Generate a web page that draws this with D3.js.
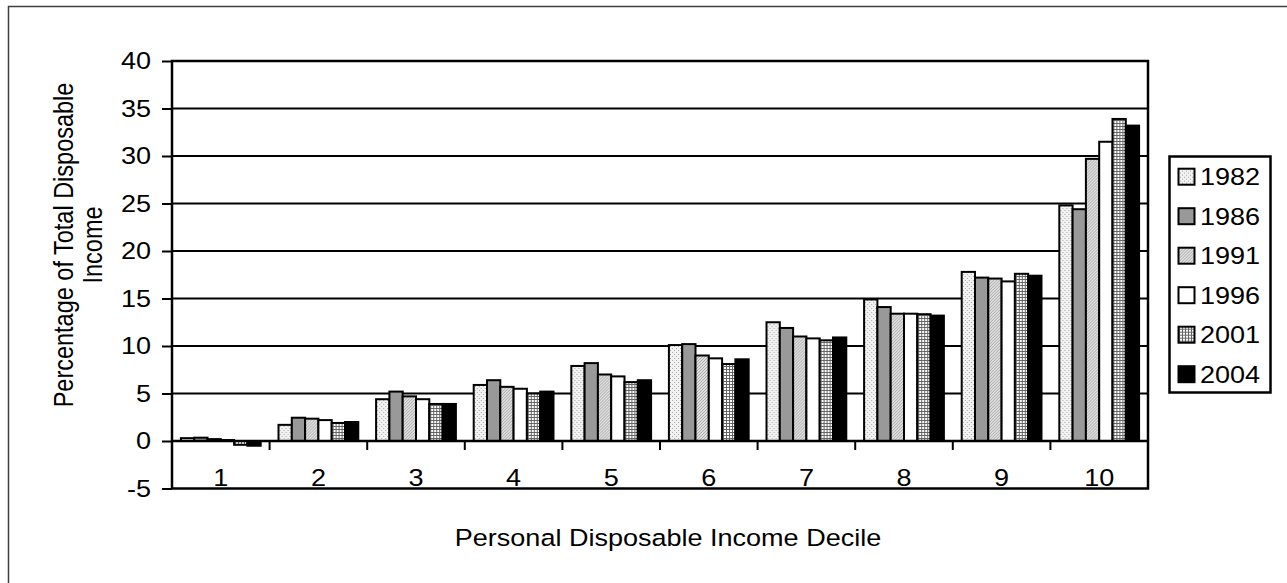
<!DOCTYPE html>
<html>
<head>
<meta charset="utf-8">
<script src="https://cdn.jsdelivr.net/npm/d3@7/dist/d3.min.js"></script>
<style>
  html, body { margin: 0; padding: 0; background: #fff; }
  svg { display: block; font-family: "Liberation Sans", Arial, sans-serif; }
</style>
</head>
<body>
<svg id="chart" width="1287" height="583"></svg>
<script>
// Share of total disposable income by decile, selected years
const deciles = ["1", "2", "3", "4", "5", "6", "7", "8", "9", "10"];
const years = ["1982", "1986", "1991", "1996", "2001", "2004"];
const share1982 = [0.3, 1.7, 4.4, 5.9, 7.9, 10.1, 12.5, 14.9, 17.8, 24.8];
const share1986 = [0.35, 2.45, 5.2, 6.4, 8.2, 10.2, 11.9, 14.1, 17.2, 24.4];
const share1991 = [0.2, 2.35, 4.7, 5.7, 7.0, 9.0, 11.0, 13.4, 17.1, 29.7];
const share1996 = [0.1, 2.2, 4.4, 5.5, 6.8, 8.7, 10.8, 13.4, 16.8, 31.5];
const share2001 = [-0.4, 1.9, 3.9, 5.0, 6.2, 8.1, 10.6, 13.35, 17.6, 33.9];
const share2004 = [-0.5, 2.0, 3.9, 5.2, 6.4, 8.6, 10.9, 13.2, 17.4, 33.2];
const yTicks = [-5, 0, 5, 10, 15, 20, 25, 30, 35, 40];

const seriesValues = [share1982, share1986, share1991, share1996, share2001, share2004];

const svg = d3.select("#chart");
const FS = 23.5;      // font size
const SX = 1.15;      // horizontal text stretch
const plot = { left: 172, right: 1148, top: 61, bottom: 488.5 };

// Fill patterns for each year
const defs = svg.append("defs");
const p82 = defs.append("pattern").attr("id", "f1982").attr("width", 4).attr("height", 4)
  .attr("patternUnits", "userSpaceOnUse");
p82.append("rect").attr("width", 4).attr("height", 4).attr("fill", "#f2f2f2");
p82.append("rect").attr("x", 0).attr("y", 0).attr("width", 1).attr("height", 1).attr("fill", "#a8a8a8");
p82.append("rect").attr("x", 2).attr("y", 2).attr("width", 1).attr("height", 1).attr("fill", "#a8a8a8");

const p91 = defs.append("pattern").attr("id", "f1991").attr("width", 3).attr("height", 3)
  .attr("patternUnits", "userSpaceOnUse");
p91.append("rect").attr("width", 3).attr("height", 3).attr("fill", "#dedede");
p91.append("path").attr("d", "M-1,1 L1,-1 M0,3 L3,0 M2,4 L4,2").attr("stroke", "#a6a6a6").attr("stroke-width", 0.9);

const p01 = defs.append("pattern").attr("id", "f2001").attr("width", 3).attr("height", 3)
  .attr("patternUnits", "userSpaceOnUse");
p01.append("rect").attr("width", 3).attr("height", 3).attr("fill", "#ffffff");
p01.append("rect").attr("x", 0).attr("y", 0).attr("width", 3).attr("height", 1).attr("fill", "#666");
p01.append("rect").attr("x", 0).attr("y", 0).attr("width", 1).attr("height", 3).attr("fill", "#666");

const fills = {
  "1982": "url(#f1982)",
  "1986": "#999999",
  "1991": "url(#f1991)",
  "1996": "#ffffff",
  "2001": "url(#f2001)",
  "2004": "#000000"
};

// Outer chart frame (right and bottom edges run past the canvas)
svg.append("rect").attr("x", 8.5).attr("y", 6.5).attr("width", 1290).attr("height", 600)
  .attr("fill", "#fff").attr("stroke", "#404040").attr("stroke-width", 1.5);

// Scales
const y = d3.scaleLinear().domain([-5, 40]).range([plot.bottom, plot.top]);
const x0 = d3.scaleBand().domain(deciles).range([plot.left, plot.right]).padding(0);
const x1 = d3.scaleBand().domain(years).range([0, x0.bandwidth()])
  .paddingInner(0).paddingOuter(0.67);

// Gridlines
svg.append("g").selectAll("line").data(yTicks.filter(t => t !== 0 && t !== -5 && t !== 40))
  .join("line")
  .attr("x1", plot.left).attr("x2", plot.right)
  .attr("y1", d => y(d)).attr("y2", d => y(d))
  .attr("stroke", "#000").attr("stroke-width", 2);

// Bars
const groups = svg.append("g").selectAll("g").data(deciles).join("g")
  .attr("transform", d => `translate(${x0(d)},0)`);
groups.selectAll("rect")
  .data((d, i) => years.map((yr, s) => ({ yr, v: seriesValues[s][i] })))
  .join("rect")
  .attr("x", d => x1(d.yr))
  .attr("width", x1.bandwidth())
  .attr("y", d => y(Math.max(0, d.v)))
  .attr("height", d => Math.abs(y(d.v) - y(0)))
  .attr("fill", d => fills[d.yr])
  .attr("stroke", "#000").attr("stroke-width", 2);

// Y axis
const yAxis = svg.append("g").attr("transform", `translate(${plot.left},0)`)
  .call(d3.axisLeft(y).tickValues(yTicks).tickSize(10).tickFormat(""));
yAxis.select(".domain").remove();
yAxis.selectAll(".tick line").attr("stroke", "#000").attr("stroke-width", 2);
svg.append("g").selectAll("text").data(yTicks).join("text")
  .attr("transform", d => `translate(151,${y(d)}) scale(${SX},1)`)
  .attr("text-anchor", "end").attr("dy", "0.35em")
  .attr("font-size", FS).attr("fill", "#000")
  .text(d => d);

// X axis along zero, tick marks at category boundaries
svg.append("line").attr("x1", plot.left).attr("x2", plot.right)
  .attr("y1", y(0)).attr("y2", y(0)).attr("stroke", "#000").attr("stroke-width", 2.5);
svg.append("g").selectAll("line").data(deciles.slice(1)).join("line")
  .attr("x1", d => x0(d)).attr("x2", d => x0(d))
  .attr("y1", y(0)).attr("y2", y(0) + 9)
  .attr("stroke", "#000").attr("stroke-width", 2);
svg.append("g").selectAll("text").data(deciles).join("text")
  .attr("transform", d => `translate(${x0(d) + x0.bandwidth() / 2},486) scale(${SX},1)`)
  .attr("text-anchor", "middle").attr("font-size", FS).attr("fill", "#000")
  .text(d => d);

// Plot border
svg.append("rect").attr("x", plot.left).attr("y", plot.top)
  .attr("width", plot.right - plot.left).attr("height", plot.bottom - plot.top)
  .attr("fill", "none").attr("stroke", "#000").attr("stroke-width", 2.5);

// Axis titles
svg.append("text")
  .attr("transform", `translate(668,546) scale(${SX},1)`)
  .attr("text-anchor", "middle").attr("font-size", FS).attr("fill", "#000")
  .text("Personal Disposable Income Decile");
const yTitle = svg.append("g").attr("transform", `translate(0,245)`);
yTitle.append("text")
  .attr("transform", `translate(73,0) scale(${SX},1) rotate(-90)`)
  .attr("text-anchor", "middle").attr("font-size", FS).attr("fill", "#000")
  .text("Percentage of Total Disposable");
yTitle.append("text")
  .attr("transform", `translate(102,0) scale(${SX},1) rotate(-90)`)
  .attr("text-anchor", "middle").attr("font-size", FS).attr("fill", "#000")
  .text("Income");

// Legend
const legend = svg.append("g");
legend.append("rect").attr("x", 1169.5).attr("y", 156.5).attr("width", 101).attr("height", 236)
  .attr("fill", "#fff").attr("stroke", "#000").attr("stroke-width", 2.5);
const items = legend.selectAll("g.item").data(years).join("g").attr("class", "item")
  .attr("transform", (d, i) => `translate(0,${176.7 + i * 39.5})`);
items.append("rect").attr("x", 1178.5).attr("y", -8).attr("width", 16).attr("height", 16)
  .attr("fill", d => fills[d]).attr("stroke", "#000").attr("stroke-width", 2);
items.append("text")
  .attr("transform", `translate(1200,0) scale(${SX},1)`)
  .attr("dy", "0.36em").attr("font-size", FS).attr("fill", "#000")
  .text(d => d);
</script>
</body>
</html>
